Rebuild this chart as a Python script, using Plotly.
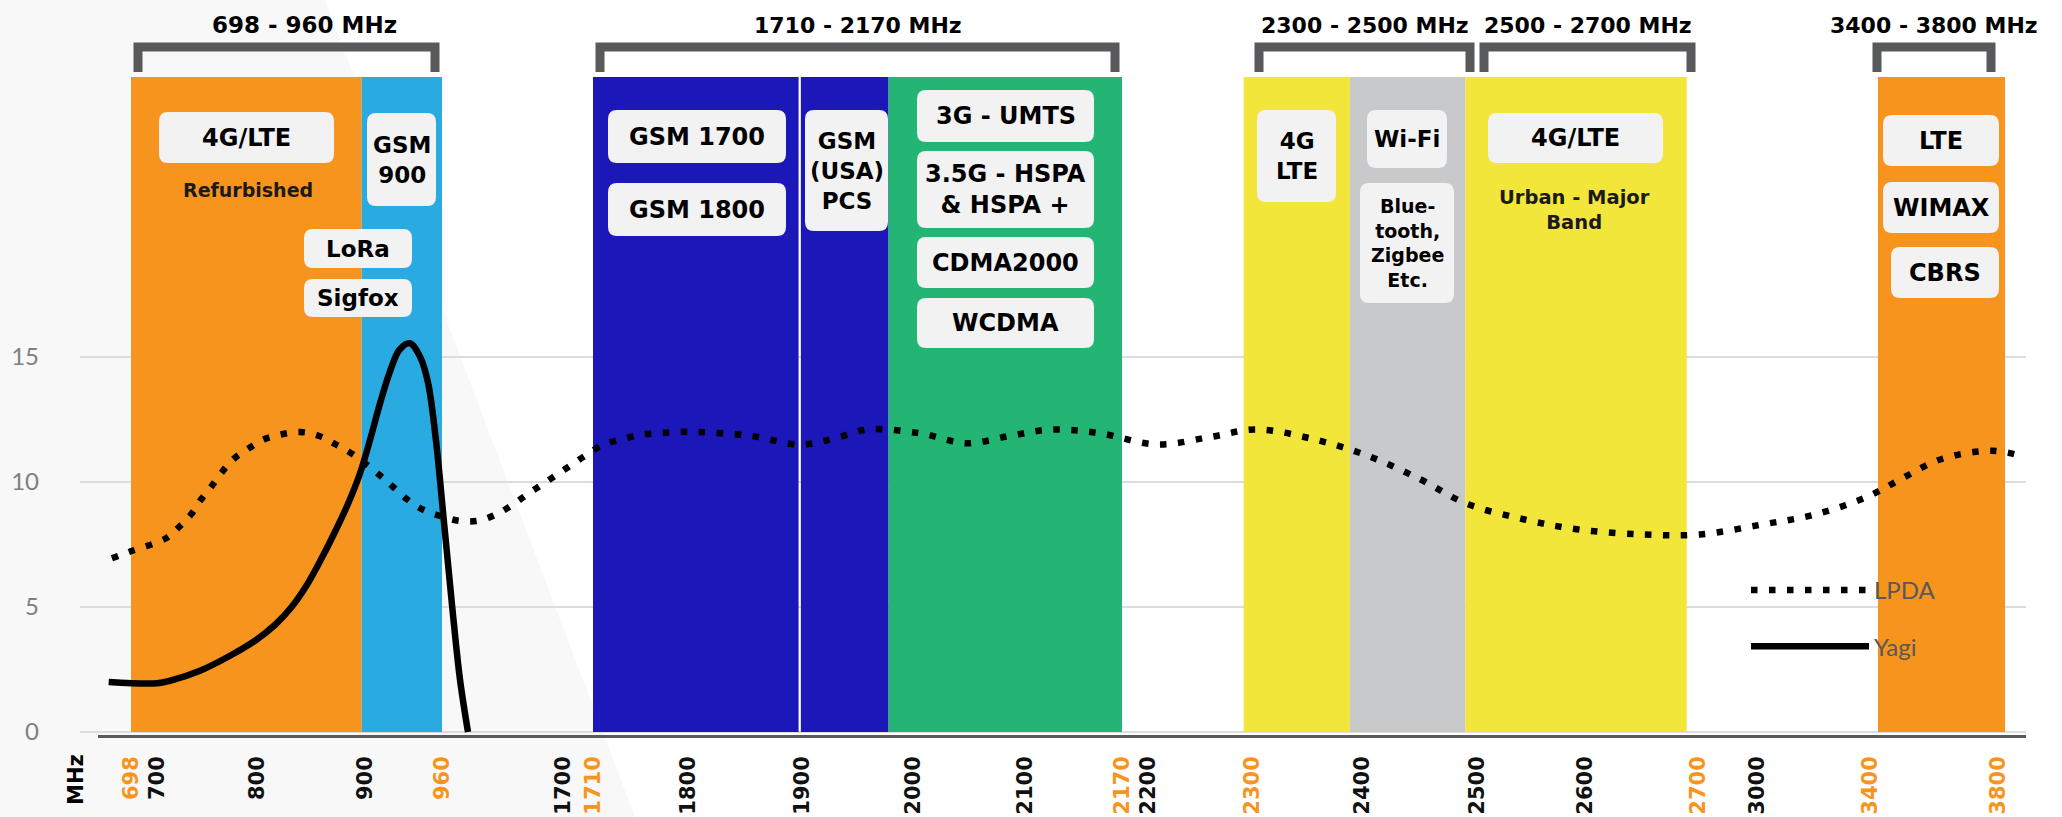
import numpy as np
import plotly.graph_objects as go

# ------------------------------------------------------------------ data
TICK_MHZ = [698, 700, 800, 900, 960, 1700, 1710, 1800, 1900, 2000, 2100,
            2170, 2200, 2300, 2400, 2500, 2600, 2700, 3000, 3400, 3800]
TICK_IS_EDGE = [True, False, False, False, True, False, True, False, False, False, False,
                True, False, True, False, False, False, True, False, True, True]

BAND_START = [698, 897, 1710, 1899, 1978, 2292, 2389, 2490, 3425]
BAND_END = [897, 960, 1897, 1978, 2170, 2389, 2490, 2690, 3822]
BAND_COLOR = ["#F7941D", "#29ABE2", "#1B17B8", "#1B17B8", "#22B573",
              "#F2E63A", "#C8C9CB", "#F2E63A", "#F7941D"]

RANGE_LO = [698, 1710, 2300, 2500, 3400]
RANGE_HI = [960, 2170, 2500, 2700, 3800]
RANGE_LABEL = ["698 - 960 MHz", "1710 - 2170 MHz", "2300 - 2500 MHz",
               "2500 - 2700 MHz", "3400 - 3800 MHz"]

LPDA_MHZ = [680, 696, 709, 722, 734, 744, 754, 764, 776, 790, 806, 822, 840, 857, 873,
            889, 912, 922, 933, 945, 958, 1064, 1180, 1290, 1394, 1480, 1572, 1664,
            1703, 1708, 1720, 1737, 1756, 1773, 1791, 1808, 1854, 1898, 1930, 1959,
            2006, 2048, 2087, 2119, 2154, 2209, 2260, 2304, 2357, 2405, 2451, 2490,
            2544, 2594, 2652, 2710, 3018, 3205, 3389, 3494, 3619, 3781, 3884]
LPDA_GAIN = [6.95, 7.2, 7.75, 8.2, 8.7, 9.3, 9.8, 10.35, 10.9, 11.3, 11.7, 11.9, 12.0,
             11.85, 11.5, 11.1, 10.25, 9.8, 9.3, 8.9, 8.65, 8.45, 8.45, 8.7, 9.1, 9.5,
             9.9, 10.3, 10.7, 11.1, 11.5, 11.7, 11.9, 11.95, 12.0, 12.0, 11.85, 11.5,
             11.75, 12.1, 11.95, 11.55, 11.85, 12.1, 11.95, 11.5, 11.8, 12.1, 11.7,
             11.05, 10.1, 9.15, 8.5, 8.1, 7.9, 7.9, 8.3, 8.7, 9.4, 10.1, 10.9, 11.25, 11.0]

YAGI_MHZ = [677, 700, 713, 743, 773, 798, 817, 832, 845, 858, 871, 884, 895, 904, 912,
            920, 927, 935, 943, 949, 955, 972, 1021, 1070, 1119]
YAGI_GAIN = [2.0, 1.95, 2.05, 2.45, 3.05, 3.65, 4.3, 5.0, 5.8, 6.8, 7.9, 9.1, 10.3, 11.7,
             13.2, 14.5, 15.3, 15.55, 15.0, 14.0, 11.8, 8.4, 5.1, 2.1, 0.0]

Y_TICKS = [0, 5, 10, 15]

# ------------------------------------------------------------------ broken x scale (MHz -> axis position)
SCALE_MHZ = [650] + TICK_MHZ + [3900]
SCALE_POS = [80, 131, 157, 257, 365, 442, 563, 593, 688, 802, 913, 1025, 1122,
             1148, 1252, 1362, 1477, 1585, 1698, 1757, 1870, 1998, 2030]


def xpos(f):
    return np.interp(f, SCALE_MHZ, SCALE_POS)


ZERO_PX = 732.0
PX_PER_UNIT = 25.0


def gy(py):  # pixel row of the picture -> gain units (layout helper)
    return (ZERO_PX - py) / PX_PER_UNIT


W, H = 2062, 817
ML, MR, MT, MB = 80, 36, 0, 75
X_RANGE = [ML, W - MR]
Y_RANGE = [gy(H - MB), gy(MT)]

FONT_BOLD = "DejaVu Sans"
FONT_LIGHT = "Lato"

fig = go.Figure()

fig.add_trace(go.Scatter(
    x=xpos(LPDA_MHZ), y=LPDA_GAIN, mode="lines", name="LPDA",
    line=dict(color="black", width=6.5, dash="6.5px,11.5px", shape="spline", smoothing=1.0),
    legendgroup="a", hoverinfo="skip"))
fig.add_trace(go.Scatter(
    x=xpos(YAGI_MHZ), y=YAGI_GAIN, mode="lines", name="Yagi",
    line=dict(color="black", width=6.5, shape="spline", smoothing=1.0),
    legendgroup="b", hoverinfo="skip"))

shapes = []
annotations = []


def px_to_paper(px, py):
    return (px - ML) / (W - ML - MR), (H - MB - py) / (H - MB - MT)


# very light background wedge
wedge = [px_to_paper(0, 0), px_to_paper(325, 0), px_to_paper(635, H), px_to_paper(0, H)]
shapes.append(dict(type="path", xref="paper", yref="paper", layer="below",
                   path="M " + " L ".join(f"{a:.4f},{b:.4f}" for a, b in wedge) + " Z",
                   fillcolor="#F8F8F8", line=dict(width=0)))

# frequency bands
BAND_TOP = gy(77)
for s, e, c in zip(BAND_START, BAND_END, BAND_COLOR):
    shapes.append(dict(type="rect", xref="x", yref="y", layer="between",
                       x0=float(xpos(s)), x1=float(xpos(e)), y0=0, y1=BAND_TOP,
                       fillcolor=c, line=dict(width=0)))

# dark base line
shapes.append(dict(type="line", xref="x", yref="y", layer="above",
                   x0=98, x1=W - MR, y0=gy(736.5), y1=gy(736.5),
                   line=dict(color="#5A5A5A", width=3)))

# range brackets + titles
for lo, hi, lab in zip(RANGE_LO, RANGE_HI, RANGE_LABEL):
    x0 = float(xpos(lo)) + 7
    x1 = float(xpos(hi)) - 7
    shapes.append(dict(type="path", xref="x", yref="y", layer="above",
                       path=f"M {x0},{gy(72)} L {x0},{gy(47)} L {x1},{gy(47)} L {x1},{gy(72)}",
                       line=dict(color="#58595B", width=9)))
    shift = 18 if lo == 698 else 0
    size = 23 if lo == 698 else 22
    annotations.append(dict(x=(x0 + x1) / 2, y=gy(25), xref="x", yref="y", text=lab,
                            showarrow=False, xshift=shift,
                            font=dict(family=FONT_BOLD, size=size, color="black", weight="bold")))

# label boxes (text, x0, x1, y0, y1 in picture px, font size)
BOXES = [
    ("4G/LTE", 159, 334, 112, 163, 24),
    ("GSM<br>900", 367, 436, 113, 206, 23),
    ("LoRa", 304, 412, 229, 268, 23),
    ("Sigfox", 304, 412, 279, 317, 23),
    ("GSM 1700", 608, 786, 110, 163, 24),
    ("GSM 1800", 608, 786, 183, 236, 24),
    ("GSM<br>(USA)<br>PCS", 805, 888, 110, 231, 23),
    ("3G - UMTS", 917, 1094, 90, 142, 24),
    ("3.5G - HSPA<br>& HSPA +", 917, 1094, 151, 228, 24),
    ("CDMA2000", 917, 1094, 237, 288, 24),
    ("WCDMA", 917, 1094, 298, 348, 24),
    ("4G<br>LTE", 1257, 1336, 110, 202, 23),
    ("Wi-Fi", 1367, 1447, 110, 168, 23),
    ("Blue-<br>tooth,<br>Zigbee<br>Etc.", 1360, 1454, 183, 303, 19),
    ("4G/LTE", 1488, 1663, 113, 163, 24),
    ("LTE", 1883, 1999, 115, 166, 24),
    ("WIMAX", 1883, 1999, 182, 233, 24),
    ("CBRS", 1891, 1999, 247, 298, 24),
]


def rounded(x0, x1, y0, y1, r=9):
    P = lambda px, py: f"{px},{gy(py):.4f}"
    return (f"M {P(x0 + r, y0)} L {P(x1 - r, y0)} Q {P(x1, y0)} {P(x1, y0 + r)} "
            f"L {P(x1, y1 - r)} Q {P(x1, y1)} {P(x1 - r, y1)} L {P(x0 + r, y1)} "
            f"Q {P(x0, y1)} {P(x0, y1 - r)} L {P(x0, y0 + r)} Q {P(x0, y0)} {P(x0 + r, y0)} Z")


for txt, x0, x1, y0, y1, fs in BOXES:
    shapes.append(dict(type="path", xref="x", yref="y", layer="above",
                       path=rounded(x0, x1, y0, y1), fillcolor="#F2F2F3",
                       line=dict(width=0)))
    annotations.append(dict(x=(x0 + x1) / 2, y=gy((y0 + y1) / 2), xref="x", yref="y",
                            text=txt, showarrow=False, align="center",
                            font=dict(family=FONT_BOLD, size=fs, color="black", weight="bold")))

NOTES = [("Refurbished", 248, 190, 19), ("Urban - Major<br>Band", 1574, 210, 19.5)]
for txt, cx, cy, fs in NOTES:
    annotations.append(dict(x=cx, y=gy(cy), xref="x", yref="y", text=txt, showarrow=False,
                            font=dict(family=FONT_BOLD, size=fs, color="#1a1a1a", weight="bold")))

# unit label
mx, my = px_to_paper(76, 780)
annotations.append(dict(x=mx, y=my, xref="paper", yref="paper", text="MHz", showarrow=False,
                        textangle=-90, xanchor="center", yanchor="middle",
                        font=dict(family=FONT_BOLD, size=21, color="black", weight="bold")))

tick_text = [f'<span style="color:{"#F7941D" if e else "#111111"}">{m}</span>'
             for m, e in zip(TICK_MHZ, TICK_IS_EDGE)]

lx, ly = px_to_paper(1746, 568)
fig.update_layout(
    width=W, height=H,
    margin=dict(l=ML, r=MR, t=MT, b=MB, pad=0),
    paper_bgcolor="white", plot_bgcolor="rgba(0,0,0,0)",
    shapes=shapes, annotations=annotations,
    showlegend=True,
    legend=dict(x=lx, y=ly, xanchor="left", yanchor="top", bgcolor="rgba(0,0,0,0)",
                font=dict(family=FONT_LIGHT, size=24, color="#595959"),
                tracegroupgap=22, itemwidth=118),
    xaxis=dict(range=X_RANGE, showgrid=False, zeroline=False, showline=False,
               tickmode="array", tickvals=[float(v) for v in xpos(TICK_MHZ)],
               ticktext=tick_text, tickangle=-90, ticks="", ticklabelstandoff=9,
               tickfont=dict(family=FONT_BOLD, size=21, weight="bold"),
               automargin=False, fixedrange=True),
    yaxis=dict(range=Y_RANGE, showgrid=True, gridcolor="#DCDCDC", gridwidth=2,
               zeroline=False, showline=False, tickmode="array", tickvals=Y_TICKS,
               ticks="", ticklabelstandoff=40,
               tickfont=dict(family=FONT_LIGHT, size=24, color="#7F7F7F"),
               automargin=False, fixedrange=True),
)

fig.write_html("out.html", config={"displayModeBar": False},
               post_script="document.body.style.margin='0';document.body.style.overflow='hidden';")
